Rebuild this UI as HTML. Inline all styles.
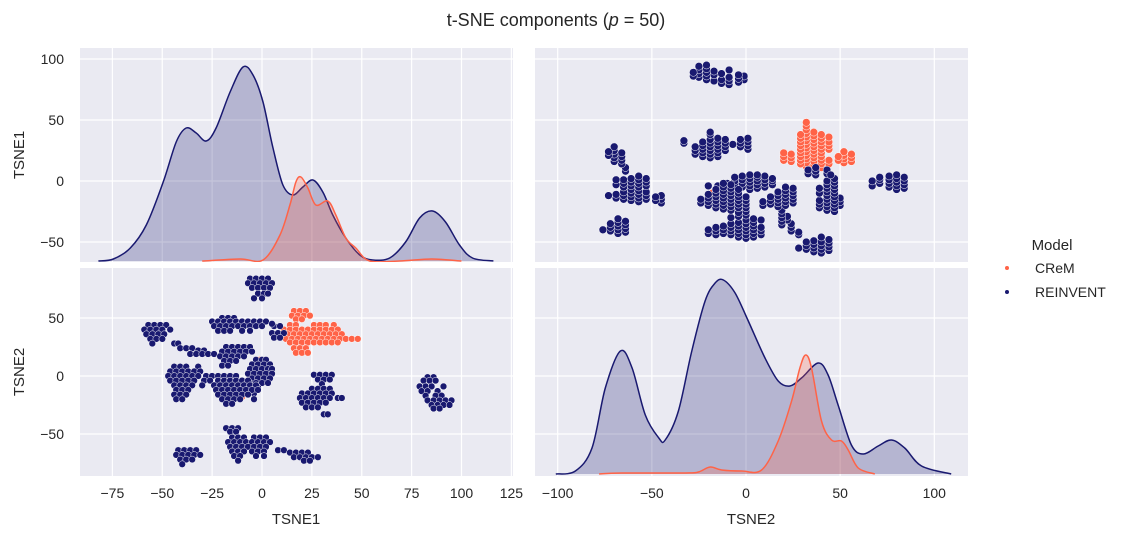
<!DOCTYPE html>
<html><head><meta charset="utf-8">
<style>
html,body{margin:0;padding:0;background:#fff;}
svg{display:block;font-family:"Liberation Sans","DejaVu Sans",sans-serif;}
</style></head>
<body>
<svg id="chart" width="1124" height="536" viewBox="0 0 1124 536" xmlns="http://www.w3.org/2000/svg">
<defs>
<clipPath id="cTL"><rect x="80" y="48" width="433" height="214"/></clipPath>
<clipPath id="cTR"><rect x="535" y="48" width="433" height="214"/></clipPath>
<clipPath id="cBL"><rect x="80" y="268" width="433" height="208"/></clipPath>
<clipPath id="cBR"><rect x="535" y="268" width="433" height="208"/></clipPath>
</defs>
<text x="556" y="26" text-anchor="middle" font-size="18" fill="#262626">t-SNE components (<tspan font-style="italic">p</tspan> = 50)</text>
<g id="panels"></g>
<text transform="translate(24,155) rotate(-90)" text-anchor="middle" font-size="15" fill="#262626">TSNE1</text>
<text transform="translate(24,372) rotate(-90)" text-anchor="middle" font-size="15" fill="#262626">TSNE2</text>
<text x="296" y="524" text-anchor="middle" font-size="15" fill="#262626">TSNE1</text>
<text x="751" y="524" text-anchor="middle" font-size="15" fill="#262626">TSNE2</text>
<g>
<text x="1052" y="250" text-anchor="middle" font-size="15" fill="#262626">Model</text>
<g><circle cx="1007" cy="268" r="2" fill="#ff6347"/><text x="1035" y="273" font-size="14" fill="#262626">CReM</text></g>
<g><circle cx="1007" cy="292" r="2" fill="#191970"/><text x="1035" y="297" font-size="14" fill="#262626">REINVENT</text></g>
</g>
</svg>
<script>
// scatter data: rows of [TSNE2, [TSNE1 values]]
const reinRows = [
[84,[-6,-3,0,3]],[80,[-7,-4,-1,2,5]],[76,[-5,-2,1,4]],[71,[-2,1,3]],[67,[-4,0]],
[44,[-57,-54,-51,-48]],[40,[-59,-56,-53,-50,-46]],[36,[-58,-55,-52,-49]],[32,[-56,-53,-50]],[28,[-55,-44,-42]],[24,[-41,-38,-35]],[22,[-32,-29]],
[50,[-20,-17,-14]],[47,[-25,-22,-19,-16,-13,-10,-7,-4,-1,2]],[43,[-24,-21,-18,-15,-12,-9,-6,-3,0,6,9]],[39,[-22,-19,-16,-10,-6]],[37,[5,8,11]],[33,[6,9]],[45,[5]],
[19,[-36,-33,-30,-27,-24]],
[25,[-18,-15,-12,-9,-6]],[21,[-20,-17,-14,-11,-8,-5]],[17,[-21,-18,-15,-12,-9]],[13,[-19,-16,-13]],[9,[-20,-17]],
[14,[-3,0,2]],[10,[-5,-2,1,4]],[6,[-6,-3,0,3,5]],[2,[-7,-4,-1,2,5]],[-2,[-5,-2,1,4]],[-6,[-6,-3,0,3]],[-10,[-8,-5,-2]],[-15,[-7,-4]],
[8,[-44,-41,-38,-32]],[4,[-46,-43,-40,-37,-34,-31]],[0,[-47,-44,-41,-38,-35,-32,-28,-25,-22,-19,-16,-13]],[-4,[-46,-43,-40,-37,-34,-29,-26,-22,-19,-16,-13,-10,-7]],
[-8,[-44,-41,-38,-35,-30,-24,-21,-18,-15,-12,-9,-6,-3]],[-12,[-43,-40,-37,-23,-20,-17,-14,-11,-8,-5,-2]],[-16,[-44,-41,-38,-22,-19,-16,-13,-10,-7]],[-20,[-43,-40,-20,-17,-14,-11,-4]],[-24,[-18,-15]],
[1,[26,29,32,35]],[-3,[28,31,34]],[-7,[30]],
[-11,[25,28,31,34]],[-15,[20,23,26,29,32,35]],[-19,[19,22,25,28,31,34,38,40]],[-23,[20,23,26,29,32]],[-27,[22,25,28]],[-33,[31,33]],
[-45,[-18,-15,-12]],[-48,[-16,-13]],
[-53,[-15,-12,-9,-4,-1,2]],[-57,[-17,-14,-11,-8,-5,-2,1,4]],[-61,[-16,-13,-10,-7,-4,-1,2]],[-65,[-15,-12,-9,-5,-2,1]],[-69,[-14,-11,-3,1]],[-73,[-12]],
[-64,[-42,-39,-36,-33,8,11]],[-68,[-43,-40,-37,-34,-31]],[-72,[-41,-38,-35]],[-76,[-40]],
[-66,[14,17,20,23]],[-70,[16,19,22,25,28]],[-73,[21,24]],
[-1,[83,86]],[-4,[81,84,87]],[-9,[79,82,85,91]],[-13,[80,83,88]],[-17,[82,87,90]],[-21,[83,86,89,92,95]],[-25,[85,88,91,94]],[-28,[86,89]]
];
const cremRows = [
[56,[16,19,22]],[52,[15,18,21,24]],[49,[17,20]],
[44,[14,17,26,29,32,36]],[40,[11,14,17,20,23,26,29,32,35,38]],[36,[10,13,16,19,22,25,28,31,34,37,40]],
[32,[12,15,18,21,24,27,30,33,36,39,42,45,48]],[29,[14,17,20,23,26,29,32,35,38]],
[24,[16,19,22]],[20,[17,20,23]],[14,[-1]],[-18,[-10]]
];
// KDE curves (x value, density height)
const kde1ReinX = [-82,-74.5,-66,-58,-49.5,-43,-38,-33,-28,-23,-16,-9.5,-4.5,0.5,5.5,10.5,15.5,20.5,25.5,30.5,35.5,42,49,55.5,64,72,79,85.5,92,99,105.5,116];
const kde1ReinY = [0,2,13,36,79,119,133,128,120,133,169,194,186,159,113,76,66,74,81,69,46,23,6,1,3,19,43,50,39,16,3,0];
const kde1CremX = [-30,-11,0.5,9,14,17,19.5,23,27,33,37,42,47,54,69,85,100];
const kde1CremY = [0,2,1,26,56,79,84,73,56,60,46,23,13,0,0,2,0];
const kde2ReinX = [-101,-90.6,-81.8,-74.7,-66.7,-60.5,-53.5,-46.3,-42.9,-35.9,-28.8,-21.7,-16.4,-12,-5.8,1.2,10.1,17.1,23.3,29.5,38.3,43.6,48.9,56,62.2,70.2,77.2,84.3,93.2,109];
const kde2ReinY = [0,3,26,86,123,106,59,36,34,63,123,173,191,194,181,153,116,93,88,96,111,99,69,29,20,28,34,26,8,0];
const kde2CremX = [-78,-66,-32.4,-25.3,-19,-12.9,-2.3,8.3,17.1,24.2,28.6,31.7,34.8,40.1,45.4,50.7,54.3,59.6,68.4];
const kde2CremY = [0,1,1,2,7,4,3,4,33,73,106,119,106,53,34,33,24,6,0];
const t1Ticks = [-75,-50,-25,0,25,50,75,100,125];
const t2Ticks = [-100,-50,0,50,100];
const t1YTicks = [100,50,0,-50];
const t2YTicks = [50,0,-50];

const NS = "http://www.w3.org/2000/svg";
const sx1 = v => 262 + 1.995*v;
const sx2 = v => 746 + 1.883*v;
const sy1 = v => 181 - 1.22*v;
const sy2 = v => 376 - 1.16*v;
const NAVY = "#191970", TOM = "#ff6347";
const root = document.getElementById('panels');
function mk(tag, attrs, parent){const e=document.createElementNS(NS,tag);for(const k in attrs)e.setAttribute(k,attrs[k]);(parent||root).appendChild(e);return e;}
function fmt(v){return v<0?"\u2212"+Math.abs(v):String(v);}

const panels = [
 {id:'TL',x:80,y:48,w:433,h:214,vx:t1Ticks.map(sx1),hy:t1YTicks.map(sy1),name:'panel-tsne1-kde'},
 {id:'TR',x:535,y:48,w:433,h:214,vx:t2Ticks.map(sx2),hy:t1YTicks.map(sy1),name:'panel-tsne2-vs-tsne1'},
 {id:'BL',x:80,y:268,w:433,h:208,vx:t1Ticks.map(sx1),hy:t2YTicks.map(sy2),name:'panel-tsne1-vs-tsne2'},
 {id:'BR',x:535,y:268,w:433,h:208,vx:t2Ticks.map(sx2),hy:t2YTicks.map(sy2),name:'panel-tsne2-kde'}
];
const groups = {};
panels.forEach(p=>{
  const g = mk('g',{});
  
  
  const bg = mk('rect',{x:p.x,y:p.y,width:p.w,height:p.h,fill:'#eaeaf2'},g);
  
  
  const gg = mk('g',{'clip-path':'url(#c'+p.id+')'},g);
  p.vx.forEach(x=>{mk('line',{x1:x,x2:x,y1:p.y,y2:p.y+p.h,stroke:'#fff','stroke-width':1.2},gg);});
  p.hy.forEach(y=>{mk('line',{x1:p.x,x2:p.x+p.w,y1:y,y2:y,stroke:'#fff','stroke-width':1.2},gg);});
  
  
  groups[p.id] = mk('g',{'clip-path':'url(#c'+p.id+')'},g);
});

// scatter
function expand(rows){const out=[];rows.forEach(r=>r[1].forEach(t1=>out.push([t1,r[0]])));return out;}
const rein = expand(reinRows), crem = expand(cremRows);
function scatter(pts,color,name){
  [['BL',p=>sx1(p[0]),p=>sy2(p[1]),3.4],['TR',p=>sx2(p[1]),p=>sy1(p[0]),3.9]].forEach(([id,fx,fy,r])=>{
    const g = mk('g',{},groups[id]);
    
    
    pts.forEach(p=>{
      const c = mk('circle',{cx:fx(p).toFixed(1),cy:fy(p).toFixed(1),r:r,fill:color,stroke:'#fff','stroke-width':0.5},g);
      
      
    });
  });
}
scatter(crem,TOM,'crem');
scatter(rein,NAVY,'reinvent');

// KDE
function smoothPath(pts){
  let d = 'M'+pts[0][0].toFixed(1)+','+pts[0][1].toFixed(1);
  for(let i=0;i<pts.length-1;i++){
    const p0=pts[Math.max(0,i-1)],p1=pts[i],p2=pts[i+1],p3=pts[Math.min(pts.length-1,i+2)];
    const c1=[p1[0]+(p2[0]-p0[0])/6,p1[1]+(p2[1]-p0[1])/6];
    const c2=[p2[0]-(p3[0]-p1[0])/6,p2[1]-(p3[1]-p1[1])/6];
    d+=' C'+c1.map(v=>v.toFixed(1)).join(',')+' '+c2.map(v=>v.toFixed(1)).join(',')+' '+p2[0].toFixed(1)+','+p2[1].toFixed(1);
  }
  return d;
}
function kde(id,xs,ys,fx,base,color,name){
  const pts = xs.map((x,i)=>[fx(x),base-ys[i]]);
  const line = smoothPath(pts);
  const g = mk('g',{},groups[id]);
  
  
  const f = mk('path',{d:line+' L'+pts[pts.length-1][0].toFixed(1)+','+base+' L'+pts[0][0].toFixed(1)+','+base+' Z',fill:color,'fill-opacity':0.25,stroke:'none'},g);
  
  
  const l = mk('path',{d:line,fill:'none',stroke:color,'stroke-width':1.5},g);
  
  
}
kde('TL',kde1ReinX,kde1ReinY,sx1,261,NAVY,'tsne1-reinvent');
kde('TL',kde1CremX,kde1CremY,sx1,261,TOM,'tsne1-crem');
kde('BR',kde2ReinX,kde2ReinY,sx2,474,NAVY,'tsne2-reinvent');
kde('BR',kde2CremX,kde2CremY,sx2,474,TOM,'tsne2-crem');

// tick labels
function tl(x,y,txt,anchor,name){
  const t = mk('text',{x:x,y:y,'text-anchor':anchor,'font-size':14,fill:'#262626'});
  t.textContent = txt;
  
  
}
t1YTicks.forEach(v=>tl(64,sy1(v)+5,fmt(v),'end','y-tick-tsne1'));
t2YTicks.forEach(v=>tl(64,sy2(v)+5,fmt(v),'end','y-tick-tsne2'));
t1Ticks.forEach(v=>tl(sx1(v),498,fmt(v),'middle','x-tick-tsne1'));
t2Ticks.forEach(v=>tl(sx2(v),498,fmt(v),'middle','x-tick-tsne2'));
</script>
</body></html>
